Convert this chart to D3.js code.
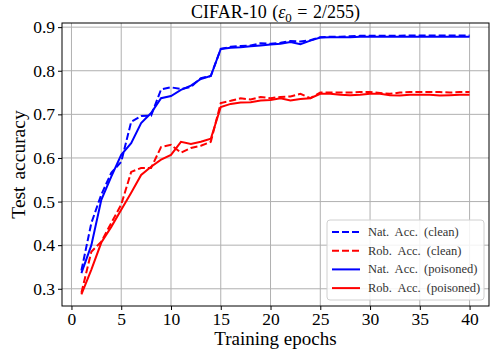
<!DOCTYPE html>
<html>
<head>
<meta charset="utf-8">
<script src="https://cdn.jsdelivr.net/npm/d3@7"></script>
<style>
  body { margin: 0; background: #fff; }
  text { font-family: "Liberation Serif", "DejaVu Serif", serif; }
</style>
</head>
<body>
<div id="chart"></div>
<script>
// epochs 1..40
var epochs = d3.range(1, 41);

var natClean = [0.342, 0.451, 0.516, 0.566, 0.591, 0.683, 0.696, 0.697, 0.757, 0.762,
                0.758, 0.763, 0.783, 0.788, 0.850, 0.855, 0.857, 0.858, 0.863, 0.862,
                0.864, 0.868, 0.867, 0.870, 0.877, 0.878, 0.878, 0.879, 0.880, 0.880,
                0.880, 0.880, 0.880, 0.881, 0.881, 0.881, 0.881, 0.881, 0.881, 0.881];
var robClean = [0.291, 0.385, 0.408, 0.451, 0.493, 0.568, 0.577, 0.577, 0.625, 0.630,
                0.612, 0.623, 0.628, 0.637, 0.726, 0.731, 0.737, 0.734, 0.740, 0.737,
                0.740, 0.741, 0.747, 0.737, 0.750, 0.750, 0.750, 0.750, 0.751, 0.751,
                0.749, 0.747, 0.750, 0.751, 0.751, 0.751, 0.751, 0.750, 0.751, 0.751];
var natPoison = [0.336, 0.400, 0.504, 0.557, 0.607, 0.634, 0.680, 0.703, 0.737, 0.742,
                 0.756, 0.766, 0.781, 0.788, 0.850, 0.853, 0.854, 0.856, 0.858, 0.860,
                 0.862, 0.866, 0.861, 0.869, 0.876, 0.877, 0.877, 0.877, 0.878, 0.878,
                 0.878, 0.878, 0.878, 0.878, 0.878, 0.878, 0.878, 0.878, 0.878, 0.878];
var robPoison = [0.287, 0.344, 0.406, 0.442, 0.481, 0.520, 0.561, 0.580, 0.596, 0.607,
                 0.637, 0.632, 0.637, 0.644, 0.717, 0.724, 0.727, 0.728, 0.732, 0.733,
                 0.737, 0.732, 0.735, 0.737, 0.747, 0.747, 0.745, 0.744, 0.745, 0.747,
                 0.747, 0.744, 0.743, 0.745, 0.745, 0.745, 0.743, 0.744, 0.745, 0.745];

var xTicks = [0, 5, 10, 15, 20, 25, 30, 35, 40];
var yTicks = [0.3, 0.4, 0.5, 0.6, 0.7, 0.8, 0.9];

var series = [
  {name: "Nat. Acc. (clean)", values: natClean, color: "#0000ff", dash: "7,3"},
  {name: "Rob. Acc. (clean)", values: robClean, color: "#ff0000", dash: "7,3"},
  {name: "Nat. Acc. (poisoned)", values: natPoison, color: "#0000ff", dash: null},
  {name: "Rob. Acc. (poisoned)", values: robPoison, color: "#ff0000", dash: null}
];

var W = 491, H = 352,
    margin = {top: 23, right: 2, bottom: 46, left: 62},
    width = W - margin.left - margin.right,
    height = H - margin.top - margin.bottom;

var x = d3.scaleLinear().domain([-0.95, 41.95]).range([0, width]),
    y = d3.scaleLinear().domain([0.2605, 0.9095]).range([height, 0]);

var svg = d3.select("#chart").append("svg")
    .attr("width", W).attr("height", H);

var g = svg.append("g")
    .attr("transform", "translate(" + margin.left + "," + margin.top + ")");

// grid
g.append("g").selectAll("line").data(xTicks).enter().append("line")
    .attr("x1", function(d){ return x(d); }).attr("x2", function(d){ return x(d); })
    .attr("y1", 0).attr("y2", height)
    .attr("stroke", "#b0b0b0").attr("stroke-width", 1);
g.append("g").selectAll("line").data(yTicks).enter().append("line")
    .attr("y1", function(d){ return y(d); }).attr("y2", function(d){ return y(d); })
    .attr("x1", 0).attr("x2", width)
    .attr("stroke", "#b0b0b0").attr("stroke-width", 1);

// lines
var line = d3.line()
    .x(function(d, i){ return x(epochs[i]); })
    .y(function(d){ return y(d); });

g.selectAll(".series").data(series).enter().append("path")
    .attr("class", "series")
    .attr("d", function(d){ return line(d.values); })
    .attr("fill", "none")
    .attr("stroke", function(d){ return d.color; })
    .attr("stroke-width", 2)
    .attr("stroke-dasharray", function(d){ return d.dash; });

// axes
var xAxis = g.append("g")
    .attr("transform", "translate(0," + height + ")")
    .call(d3.axisBottom(x).tickValues(xTicks).tickSize(4).tickPadding(3).tickFormat(d3.format("d")));
var yAxis = g.append("g")
    .call(d3.axisLeft(y).tickValues(yTicks).tickSize(4).tickPadding(3).tickFormat(d3.format(".1f")));

[xAxis, yAxis].forEach(function(a){
  a.select(".domain").remove();
  a.selectAll("text").attr("font-size", "17.5px").attr("fill", "#000")
    .style("font-family", "'Liberation Serif', serif");
  a.selectAll("line").attr("stroke", "#000");
});

g.append("rect")
    .attr("width", width).attr("height", height)
    .attr("fill", "none").attr("stroke", "#000").attr("stroke-width", 1);

// title
var title = svg.append("text")
    .attr("x", margin.left + width / 2).attr("y", 18)
    .attr("text-anchor", "middle").attr("font-size", "18px")
    .attr("word-spacing", "1px");
title.append("tspan").text("CIFAR-10 (");
title.append("tspan").attr("font-style", "italic").text("ε");
title.append("tspan").attr("font-size", "13px").attr("dy", 4).text("0");
title.append("tspan").attr("dy", -4).text(" = 2/255)");

// axis labels
svg.append("text")
    .attr("x", margin.left + width / 2).attr("y", 345)
    .attr("text-anchor", "middle").attr("font-size", "19px")
    .text("Training epochs");
svg.append("text")
    .attr("transform", "translate(25," + (margin.top + height / 2) + ") rotate(-90)")
    .attr("text-anchor", "middle").attr("font-size", "19.5px")
    .attr("word-spacing", "2px")
    .text("Test accuracy");

// legend
var lg = svg.append("g").attr("transform", "translate(327,220)");
lg.append("rect")
    .attr("width", 157).attr("height", 80).attr("rx", 3)
    .attr("fill", "#fff").attr("fill-opacity", 0.85)
    .attr("stroke", "#d0d0d0");
var items = lg.selectAll(".item").data(series).enter().append("g")
    .attr("transform", function(d, i){ return "translate(0," + (12 + i * 18.7) + ")"; });
items.append("line")
    .attr("x1", 5).attr("x2", 33)
    .attr("stroke", function(d){ return d.color; })
    .attr("stroke-width", 2)
    .attr("stroke-dasharray", function(d){ return d.dash; });
items.append("text")
    .attr("x", 41).attr("y", 4)
    .attr("font-size", "12.5px").attr("fill", "#333")
    .attr("word-spacing", "3px")
    .text(function(d){ return d.name; });
</script>
</body>
</html>
